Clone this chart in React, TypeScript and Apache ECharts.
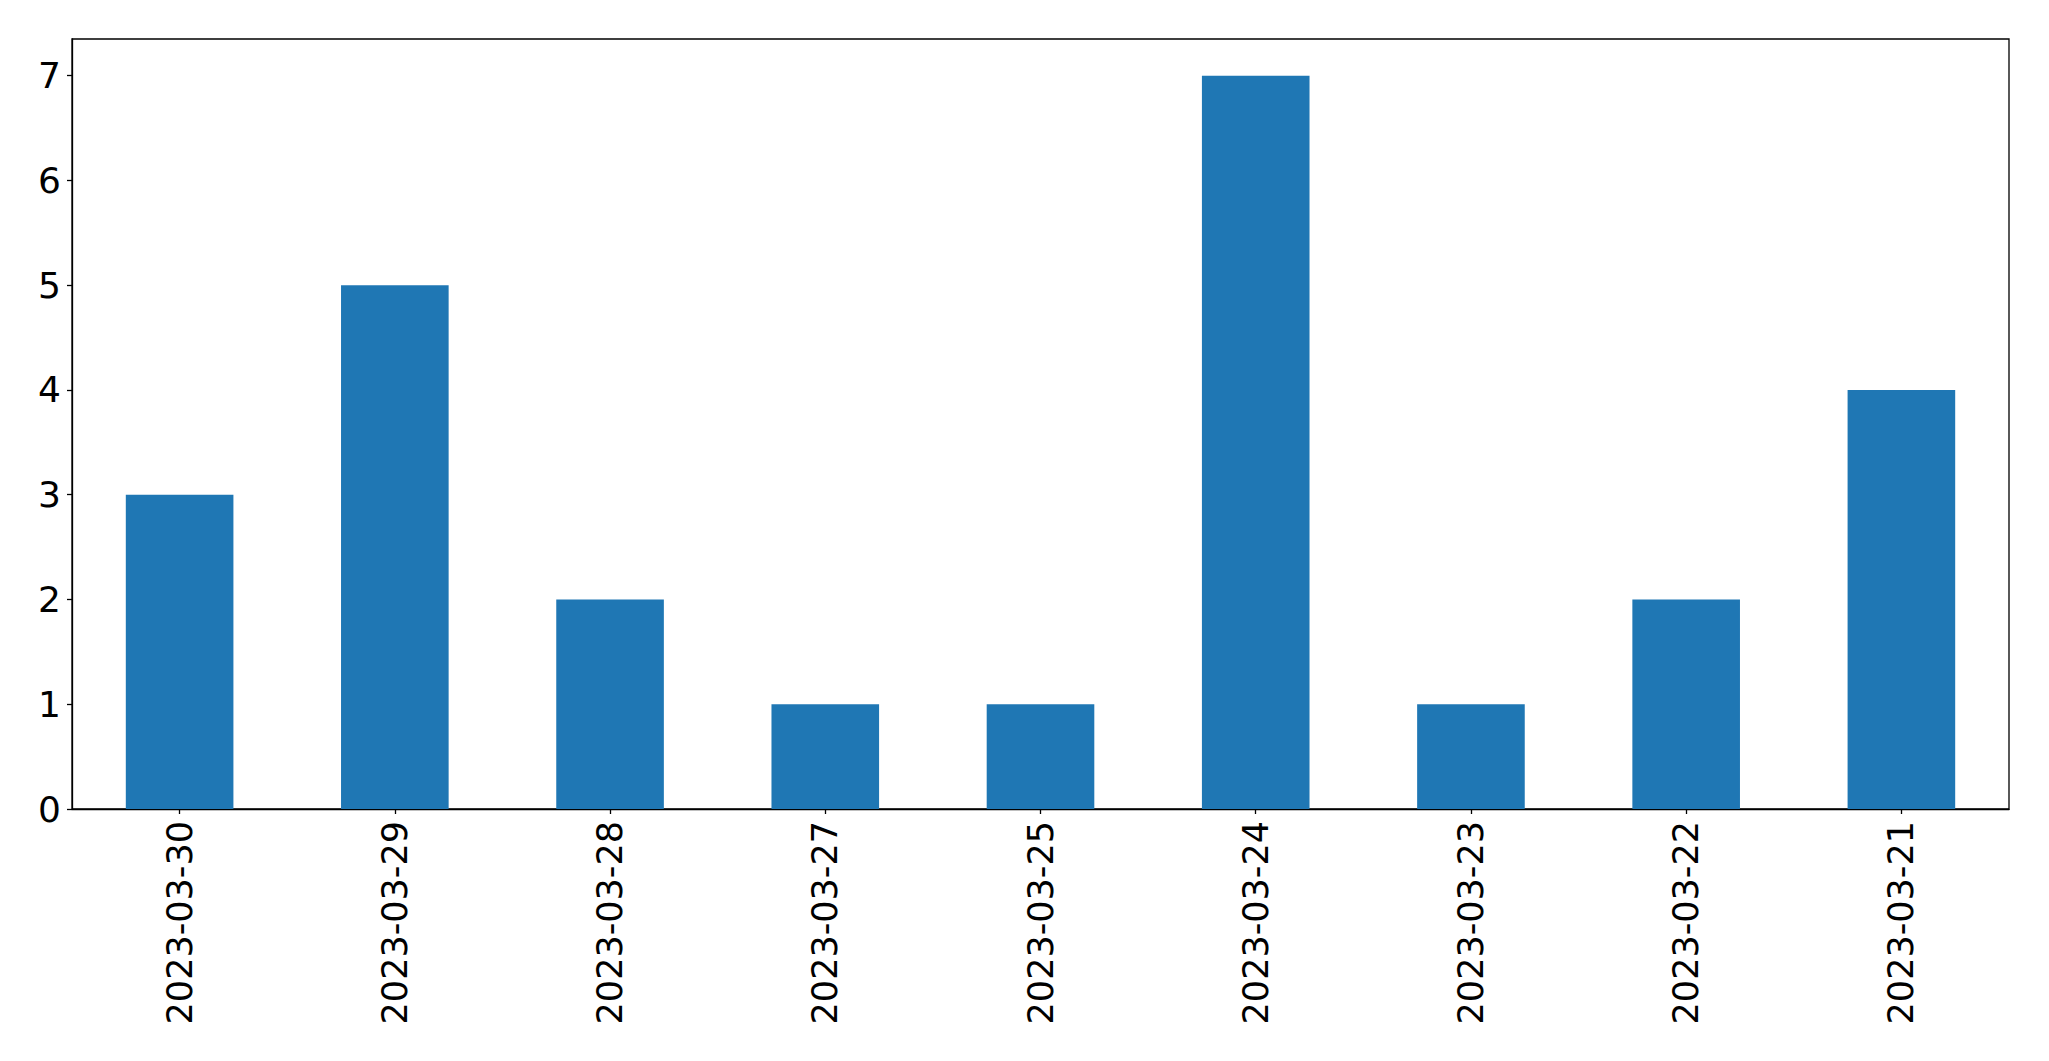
import React, { useEffect, useRef } from "react";
import * as echarts from "echarts";

const categories = [
  "2023-03-30",
  "2023-03-29",
  "2023-03-28",
  "2023-03-27",
  "2023-03-25",
  "2023-03-24",
  "2023-03-23",
  "2023-03-22",
  "2023-03-21",
];
const values = [3, 5, 2, 1, 1, 7, 1, 2, 4];
const yTicks = [0, 1, 2, 3, 4, 5, 6, 7];

export default function App() {
  const ref = useRef<HTMLDivElement>(null);
  useEffect(() => {
    if (!ref.current) return;
    const chart = echarts.init(ref.current, undefined, { renderer: "svg" });
    const font = "DejaVu Sans";
    chart.setOption({
      animation: false,
      backgroundColor: "#ffffff",
      grid: {
        left: 72,
        top: 39,
        right: 40,
        bottom: 252,
        show: true,
        borderColor: "#000000",
        borderWidth: 1.3,
        backgroundColor: "transparent",
      },
      xAxis: {
        type: "category",
        data: categories,
        boundaryGap: true,
        axisLine: { show: true, lineStyle: { color: "#000000", width: 1.3 } },
        axisTick: { show: true, alignWithLabel: true, length: 5, lineStyle: { color: "#000000", width: 1.3 } },
        axisLabel: {
          rotate: 90,
          margin: 12,
          fontSize: 35,
          fontFamily: font,
          color: "#000000",
          interval: 0,
        },
        splitLine: { show: false },
      },
      yAxis: {
        type: "value",
        min: 0,
        max: 7.35,
        interval: 1,
        axisLine: { show: true, lineStyle: { color: "#000000", width: 1.3 } },
        axisTick: { show: true, length: 5, lineStyle: { color: "#000000", width: 1.3 }, customValues: yTicks },
        axisLabel: {
          margin: 11,
          fontSize: 36,
          fontFamily: font,
          color: "#000000",
          customValues: yTicks,
        },
        splitLine: { show: false },
      },
      series: [
        {
          type: "bar",
          data: values,
          barWidth: "50%",
          itemStyle: { color: "#1f77b4" },
        },
      ],
    });
    return () => chart.dispose();
  }, []);
  return (
    <div
      ref={ref}
      style={{ position: "absolute", left: 0, top: 0, width: 2049, height: 1061 }}
    />
  );
}
